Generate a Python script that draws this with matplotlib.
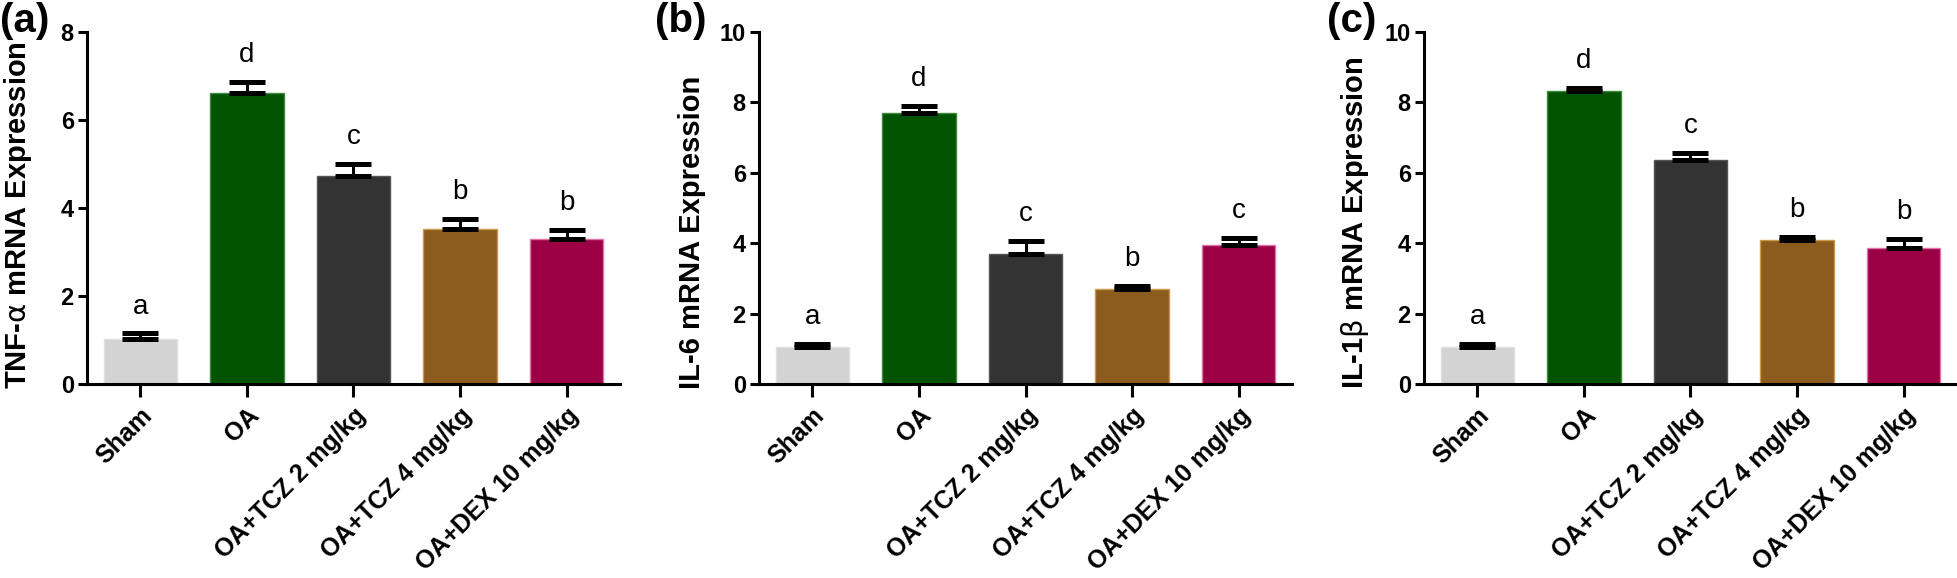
import matplotlib
matplotlib.use("Agg")
import matplotlib.pyplot as plt
import numpy as np

plt.rcParams['font.family'] = ['Liberation Sans', 'DejaVu Sans']
plt.rcParams['mathtext.fontset'] = 'dejavusans'

# --- data ---
groups = ["Sham", "OA", "OA+TCZ 2 mg/kg", "OA+TCZ 4 mg/kg", "OA+DEX 10 mg/kg"]
bar_colors = ["#d3d3d3", "#025302", "#333333", "#8c5b1e", "#9c0045"]
edge_colors = ["#e0e0e0", "#3f8a3f", "#555555", "#c89a4a", "#e070a8"]

tnf_mean = [1.03, 6.62, 4.73, 3.53, 3.29]
tnf_err = [0.12, 0.25, 0.28, 0.22, 0.21]
tnf_letters = ["a", "d", "c", "b", "b"]

il6_mean = [1.05, 7.70, 3.68, 2.71, 3.96]
il6_err = [0.10, 0.19, 0.38, 0.07, 0.18]
il6_letters = ["a", "d", "c", "b", "c"]

il1b_mean = [1.05, 8.32, 6.35, 4.10, 3.86]
il1b_err = [0.10, 0.08, 0.21, 0.07, 0.26]
il1b_letters = ["a", "d", "c", "b", "b"]

panels = [
    ("(a)", r"TNF-$\mathrm{\alpha}$ mRNA Expression", tnf_mean, tnf_err, tnf_letters, 8, [0, 2, 4, 6, 8]),
    ("(b)", "IL-6 mRNA Expression", il6_mean, il6_err, il6_letters, 10, [0, 2, 4, 6, 8, 10]),
    ("(c)", r"IL-1$\mathrm{\beta}$ mRNA Expression", il1b_mean, il1b_err, il1b_letters, 10, [0, 2, 4, 6, 8, 10]),
]

fig = plt.figure(figsize=(19.58, 5.78), dpi=100)
lefts = [87, 759, 1424]
tag_x = [0, 655, 1327]
W, H = 1958, 578
x = np.arange(len(groups))

for (tag, ylab, mean, err, letters, ymax, yticks), left, tx in zip(panels, lefts, tag_x):
    ax = fig.add_axes([left / W, (H - 384) / H, 533 / W, 352 / H])
    ax.bar(x, mean, width=0.69, color=bar_colors, edgecolor=edge_colors, linewidth=1.0, zorder=2)
    ax.errorbar(x, mean, yerr=[np.zeros(len(x)), err], fmt='none', ecolor='black',
                elinewidth=2.2, capsize=13, capthick=3.6, zorder=3)
    for xi, m, e, lt in zip(x, mean, err, letters):
        ax.annotate(lt, (xi, m + e), xytext=(0, 10), textcoords='offset points',
                    ha='center', va='bottom', fontsize=20)

    ax.set_xlim(-0.5, 4.5)
    ax.set_ylim(0, ymax)
    ax.set_yticks(yticks)
    ax.set_xticks(x)
    ax.set_xticklabels(groups, rotation=45, ha='right', rotation_mode='anchor',
                       fontsize=18, fontweight='bold')
    for lbl in ax.get_yticklabels():
        lbl.set_fontweight('bold')
        lbl.set_fontsize(17)
    ax.spines['top'].set_visible(False)
    ax.spines['right'].set_visible(False)
    ax.spines['left'].set_linewidth(2.2)
    ax.spines['bottom'].set_linewidth(2.2)
    ax.tick_params(axis='y', length=6.5, width=2.2, pad=3)
    ax.tick_params(axis='x', length=9, width=2.2, pad=5)

    ax.set_ylabel(ylab, fontsize=21, fontweight='bold')
    ax.yaxis.set_label_coords(-0.099, -0.014)
    ax.yaxis.label.set_horizontalalignment('left')

    fig.text(tx / W, 1 - 2 / H, tag, fontsize=29, fontweight='bold',
             ha='left', va='top')

fig.savefig("out.png", dpi=100)
